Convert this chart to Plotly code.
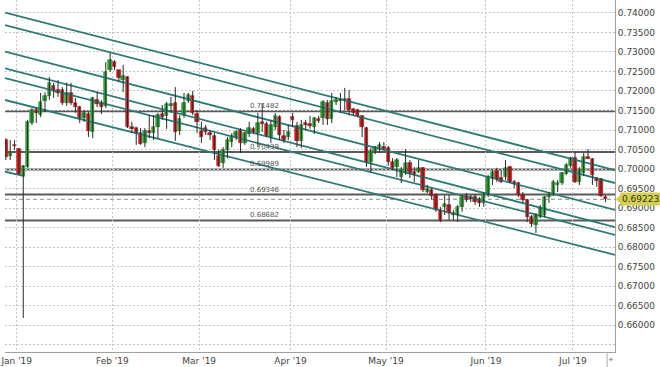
import pandas as pd
import plotly.graph_objects as go

# ---------------- data ----------------
dates = [d for d in pd.bdate_range("2018-12-27", "2019-07-10") if d != pd.Timestamp("2019-01-01")]

opens = [0.7074, 0.7033, 0.7062, 0.7051, 0.6982, 0.7005, 0.7118, 0.7151, 0.7138, 0.7174,
         0.7187, 0.7213, 0.7203, 0.7203, 0.7169, 0.7195, 0.7169, 0.7159, 0.7131, 0.7141,
         0.7095, 0.7177, 0.7169, 0.7162, 0.7254, 0.7274, 0.7254, 0.7228, 0.7236, 0.7108,
         0.7105, 0.7092, 0.7067, 0.7097, 0.7092, 0.7108, 0.7141, 0.7136, 0.7162, 0.7169,
         0.7097, 0.7138, 0.7174, 0.7187, 0.7141, 0.7097, 0.7105, 0.7092, 0.7085, 0.7033,
         0.7015, 0.7049, 0.7069, 0.7082, 0.7100, 0.7067, 0.7090, 0.7103, 0.7092, 0.7121,
         0.7115, 0.7082, 0.7108, 0.7133, 0.7085, 0.7082, 0.7133, 0.7110, 0.7072, 0.7118,
         0.7115, 0.7108, 0.7128, 0.7131, 0.7169, 0.7128, 0.7172, 0.7174, 0.7177, 0.7179,
         0.7154, 0.7151, 0.7136, 0.7105, 0.7018, 0.7046, 0.7054, 0.7056, 0.7054, 0.7018,
         0.7005, 0.6979, 0.6990, 0.7015, 0.6992, 0.6992, 0.7003, 0.6941, 0.6946, 0.6933,
         0.6895, 0.6903, 0.6908, 0.6887, 0.6882, 0.6903, 0.6931, 0.6928, 0.6928, 0.6923,
         0.6913, 0.6933, 0.6977, 0.6995, 0.6977, 0.6979, 0.7005, 0.6967, 0.6964, 0.6933,
         0.6921, 0.6877, 0.6856, 0.6877, 0.6882, 0.6928, 0.6933, 0.6959, 0.6964, 0.6987,
         0.7008, 0.7028, 0.6967, 0.6990, 0.7031, 0.7026, 0.6977, 0.6974, 0.6928]
highs = [0.7079, 0.7074, 0.7074, 0.7054, 0.7010, 0.7126, 0.7156, 0.7159, 0.7195, 0.7197,
         0.7236, 0.7221, 0.7228, 0.7210, 0.7221, 0.7221, 0.7182, 0.7162, 0.7151, 0.7146,
         0.7185, 0.7197, 0.7177, 0.7274, 0.7297, 0.7279, 0.7254, 0.7267, 0.7238, 0.7121,
         0.7108, 0.7105, 0.7105, 0.7138, 0.7138, 0.7144, 0.7164, 0.7172, 0.7185, 0.7210,
         0.7138, 0.7195, 0.7195, 0.7200, 0.7151, 0.7121, 0.7113, 0.7100, 0.7092, 0.7049,
         0.7056, 0.7082, 0.7092, 0.7100, 0.7105, 0.7095, 0.7121, 0.7108, 0.7144, 0.7169,
         0.7121, 0.7126, 0.7144, 0.7138, 0.7100, 0.7113, 0.7144, 0.7121, 0.7126, 0.7126,
         0.7136, 0.7133, 0.7136, 0.7177, 0.7177, 0.7195, 0.7185, 0.7195, 0.7208, 0.7203,
         0.7156, 0.7154, 0.7138, 0.7108, 0.7054, 0.7059, 0.7069, 0.7069, 0.7059, 0.7028,
         0.7028, 0.7005, 0.7051, 0.7023, 0.7005, 0.7023, 0.7005, 0.6959, 0.6951, 0.6938,
         0.6903, 0.6933, 0.6933, 0.6895, 0.6908, 0.6933, 0.6938, 0.6933, 0.6936, 0.6928,
         0.6941, 0.6985, 0.6997, 0.7003, 0.6997, 0.7023, 0.7008, 0.6972, 0.6967, 0.6941,
         0.6923, 0.6882, 0.6887, 0.6908, 0.6931, 0.6941, 0.6972, 0.6972, 0.6992, 0.7015,
         0.7031, 0.7044, 0.7005, 0.7041, 0.7051, 0.7028, 0.6979, 0.6977, 0.6933]
lows = [0.7023, 0.7023, 0.7049, 0.6985, 0.6618, 0.7003, 0.7113, 0.7118, 0.7133, 0.7146,
        0.7177, 0.7182, 0.7185, 0.7164, 0.7162, 0.7164, 0.7144, 0.7118, 0.7121, 0.7082,
        0.7079, 0.7159, 0.7141, 0.7156, 0.7249, 0.7254, 0.7223, 0.7197, 0.7105, 0.7092,
        0.7062, 0.7062, 0.7056, 0.7079, 0.7074, 0.7079, 0.7126, 0.7103, 0.7144, 0.7072,
        0.7087, 0.7131, 0.7169, 0.7138, 0.7092, 0.7067, 0.7087, 0.7074, 0.7023, 0.7005,
        0.7003, 0.7028, 0.7056, 0.7074, 0.7041, 0.7062, 0.7082, 0.7090, 0.7056, 0.7095,
        0.7082, 0.7067, 0.7100, 0.7074, 0.7067, 0.7074, 0.7108, 0.7056, 0.7054, 0.7100,
        0.7103, 0.7090, 0.7118, 0.7113, 0.7113, 0.7118, 0.7164, 0.7144, 0.7151, 0.7138,
        0.7138, 0.7133, 0.7082, 0.7005, 0.6990, 0.7038, 0.7041, 0.7049, 0.7008, 0.6997,
        0.6979, 0.6964, 0.6985, 0.6977, 0.6967, 0.6990, 0.6941, 0.6938, 0.6921, 0.6890,
        0.6864, 0.6882, 0.6869, 0.6869, 0.6864, 0.6890, 0.6915, 0.6915, 0.6908, 0.6903,
        0.6903, 0.6928, 0.6959, 0.6967, 0.6964, 0.6972, 0.6964, 0.6951, 0.6928, 0.6913,
        0.6864, 0.6851, 0.6836, 0.6874, 0.6877, 0.6913, 0.6931, 0.6941, 0.6959, 0.6985,
        0.7003, 0.6964, 0.6959, 0.6982, 0.7026, 0.6959, 0.6954, 0.6928, 0.6915]
closes = [0.7031, 0.7044, 0.7059, 0.6987, 0.7008, 0.7121, 0.7151, 0.7144, 0.7172, 0.7187,
          0.7221, 0.7200, 0.7195, 0.7169, 0.7195, 0.7169, 0.7159, 0.7128, 0.7144, 0.7097,
          0.7182, 0.7167, 0.7159, 0.7249, 0.7279, 0.7262, 0.7233, 0.7238, 0.7108, 0.7103,
          0.7092, 0.7064, 0.7097, 0.7092, 0.7108, 0.7138, 0.7133, 0.7167, 0.7167, 0.7095,
          0.7128, 0.7169, 0.7190, 0.7144, 0.7121, 0.7082, 0.7095, 0.7087, 0.7049, 0.7008,
          0.7049, 0.7074, 0.7085, 0.7095, 0.7067, 0.7092, 0.7105, 0.7095, 0.7118, 0.7115,
          0.7085, 0.7113, 0.7136, 0.7087, 0.7074, 0.7095, 0.7126, 0.7072, 0.7113, 0.7113,
          0.7110, 0.7131, 0.7123, 0.7172, 0.7128, 0.7174, 0.7177, 0.7179, 0.7179, 0.7151,
          0.7144, 0.7136, 0.7108, 0.7018, 0.7046, 0.7056, 0.7062, 0.7051, 0.7018, 0.7003,
          0.7023, 0.6997, 0.7015, 0.6990, 0.6987, 0.7003, 0.6946, 0.6949, 0.6931, 0.6895,
          0.6869, 0.6910, 0.6887, 0.6882, 0.6903, 0.6928, 0.6921, 0.6923, 0.6915, 0.6913,
          0.6936, 0.6979, 0.6992, 0.6974, 0.6967, 0.7003, 0.6967, 0.6962, 0.6933, 0.6921,
          0.6877, 0.6859, 0.6882, 0.6900, 0.6928, 0.6933, 0.6967, 0.6964, 0.6990, 0.7010,
          0.7028, 0.6967, 0.6997, 0.7031, 0.7026, 0.6985, 0.6969, 0.6931, 0.69223]

levels = [0.71482, 0.70439, 0.69989, 0.69346, 0.68682]
level_labels = ["0.71482", "0.70439", "0.69989", "0.69346", "0.68682"]
last_price = 0.69223

# channel lines: price at the left edge and at the right edge of the plot
channel_start = [0.7401, 0.7369, 0.7301, 0.7258, 0.7233, 0.7177]
channel_end = [0.6997, 0.6964, 0.6895, 0.6851, 0.6831, 0.6780]
short_seg = [0.6993, 0.6982]

y_ticks = [0.655, 0.66, 0.665, 0.67, 0.675, 0.68, 0.685, 0.69, 0.695, 0.70, 0.705,
           0.71, 0.715, 0.72, 0.725, 0.73, 0.735, 0.74]

# ---------------- build figure ----------------
n = len(dates)
idx = list(range(n))
x_lo, x_hi = -0.2, n - 1 + 2.2

# month boundaries (left edge of each month's first candle)
month_pos, month_txt = [], []
for i, d in enumerate(dates):
    if i > 0 and d.month != dates[i - 1].month:
        month_pos.append(i - 0.5)
        month_txt.append(d.strftime("%b '%y"))

GREEN, RED = "#36a93b", "#cf2121"
GREEN_EDGE, RED_EDGE = "#23812a", "#9c1717"
TEAL = "#2b7a77"

fig = go.Figure()

# channel lines
for s, e in zip(channel_start, channel_end):
    fig.add_trace(go.Scatter(x=[x_lo, x_hi], y=[s, e], mode="lines",
                             line=dict(color=TEAL, width=1.8), hoverinfo="skip", showlegend=False))
fig.add_trace(go.Scatter(x=[x_lo, 4.3], y=short_seg, mode="lines",
                         line=dict(color=TEAL, width=1.8), hoverinfo="skip", showlegend=False))

# wicks
wx, wy = [], []
for i in idx:
    wx += [i, i, None]
    wy += [lows[i], highs[i], None]
fig.add_trace(go.Scatter(x=wx, y=wy, mode="lines", line=dict(color="#2a2a2a", width=1),
                         hoverinfo="skip", showlegend=False))

# bodies
heights, bases, cols, edges = [], [], [], []
for o, c in zip(opens, closes):
    heights.append(max(abs(c - o), 0.00008))
    bases.append(min(o, c))
    up = c >= o
    cols.append(GREEN if up else RED)
    edges.append(GREEN_EDGE if up else RED_EDGE)
fig.add_trace(go.Bar(x=idx, y=heights, base=bases, width=0.78,
                     marker=dict(color=cols, line=dict(width=0.6, color=edges)),
                     hoverinfo="skip", showlegend=False))

shapes = []
for lv in levels:
    shapes.append(dict(type="line", xref="paper", x0=0, x1=1, yref="y", y0=lv, y1=lv,
                       line=dict(color="#5a5a5a", width=2), layer="below"))
shapes.append(dict(type="line", xref="paper", x0=0, x1=1, yref="y", y0=last_price, y1=last_price,
                   line=dict(color="#8a8a8a", width=1, dash="4px,3px"), layer="below"))
# arrow of the price tag
shapes.append(dict(type="path", xref="paper", xsizemode="pixel", xanchor=1,
                   yref="y", ysizemode="pixel", yanchor=last_price,
                   path="M1,0 L6,5 L6,-5 Z", fillcolor="#d3d04e", line=dict(width=0)))
# small separator bottom-right
shapes.append(dict(type="line", xref="paper", x0=0.987, x1=0.987, yref="paper", y0=0, y1=-0.045,
                   line=dict(color="#aaaaaa", width=1)))

annotations = []
for lv, t in zip(levels, level_labels):
    annotations.append(dict(x=0.399, xref="paper", y=lv, yref="y", text=t, showarrow=False,
                            xanchor="left", yanchor="bottom", yshift=-1,
                            font=dict(family="DejaVu Sans", size=7, color="#555555")))
annotations.append(dict(x=1, xref="paper", y=last_price, yref="y", text="0.69223", showarrow=False,
                        xanchor="left", yanchor="middle", xshift=5, bgcolor="#d3d04e", borderpad=1,
                        font=dict(family="DejaVu Sans", size=9, color="#333333")))
annotations.append(dict(x=0.9935, xref="paper", y=-0.023, yref="paper", text="✦", showarrow=False,
                        xanchor="center", yanchor="middle",
                        font=dict(family="DejaVu Sans", size=7, color="#999999")))

fig.update_layout(
    width=660, height=367,
    margin=dict(l=0, r=45, t=0, b=15),
    paper_bgcolor="white", plot_bgcolor="white",
    barmode="overlay", bargap=0,
    showlegend=False,
    shapes=shapes, annotations=annotations,
    font=dict(family="DejaVu Sans", size=9, color="#444444"),
    xaxis=dict(range=[x_lo, x_hi], tickmode="array", tickvals=month_pos, ticktext=month_txt,
               showgrid=True, gridcolor="#c4c4c4", griddash="2px,2px", gridwidth=1,
               zeroline=False, showline=True, linecolor="#a0a0a0", linewidth=1,
               ticks="", ticklabeloverflow="allow",
               tickfont=dict(family="DejaVu Sans", size=9, color="#444444"),
               fixedrange=True),
    yaxis=dict(range=[0.65308, 0.74333], side="right", tickmode="array", tickvals=y_ticks,
               ticktext=["" if v < 0.659 else f"{v:.5f}" for v in y_ticks],
               showgrid=True, gridcolor="#c4c4c4", griddash="2px,2px", gridwidth=1,
               zeroline=False, showline=True, linecolor="#a0a0a0", linewidth=1,
               ticks="", tickfont=dict(family="DejaVu Sans", size=9, color="#444444"),
               fixedrange=True),
)

fig.write_html("out.html")
